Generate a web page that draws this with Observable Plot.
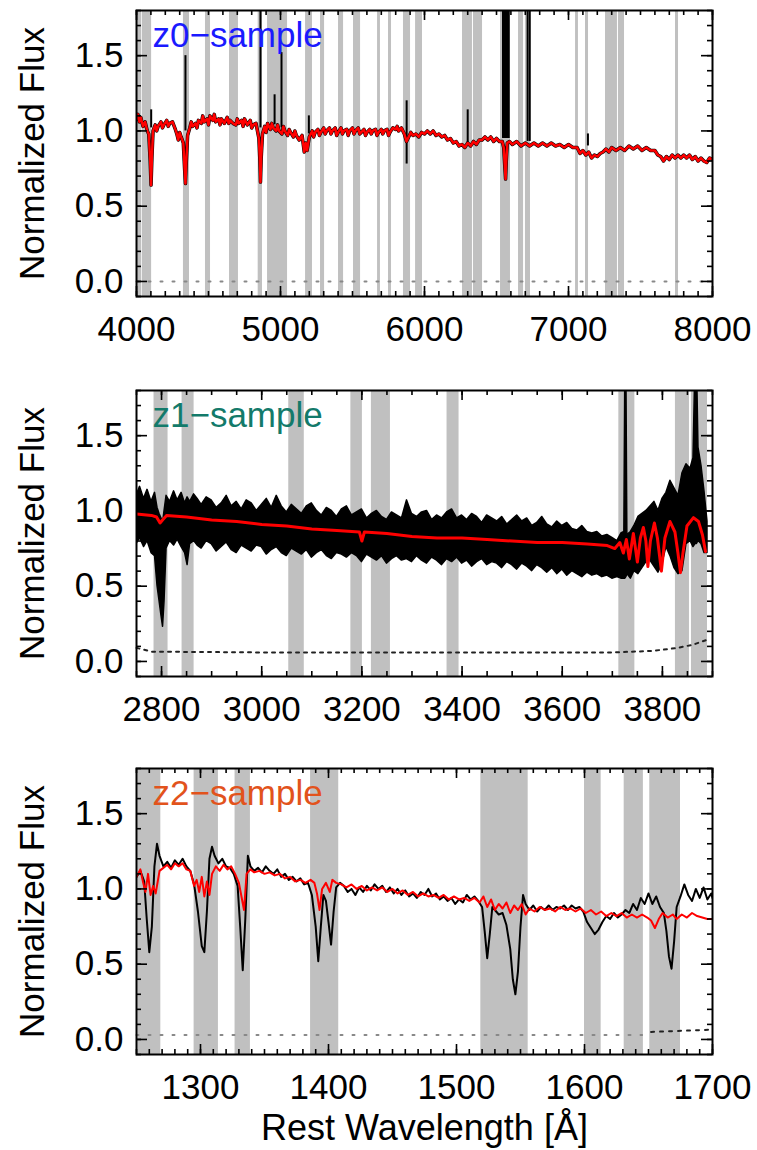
<!DOCTYPE html>
<html><head><meta charset="utf-8">
<script src="https://cdn.jsdelivr.net/npm/d3@7"></script>
<script src="https://cdn.jsdelivr.net/npm/@observablehq/plot@0.6"></script>
<style>
body{margin:0;background:#fff;}
#wrap{position:relative;width:757px;height:1150px;background:#fff;}
.panel{position:absolute;left:0;}
</style></head><body><div id="wrap"></div>
<script>
// ---------------- DATA ----------------
const yTickLabels = [0.0, 0.5, 1.0, 1.5];

// z0 panel
const z0Ticks = [4000, 5000, 6000, 7000, 8000];
const z0Bands = [[4005,4035],[4040,4105],[4326,4368],[4479,4514],[4646,4708],[4845,4875],[4910,5049],[5174,5222],[5278,5306],[5403,5438],[5507,5556],[5674,5694],[5750,5771],[5854,5903],[5938,5986],[6264,6333],[6340,6403],[6528,6597],[6653,6688],[6701,6736],[7049,7069],[7118,7139],[7257,7340],[7347,7389],[7743,7764]];
const z0Model = [[4000,1.08],[4010,1.11],[4020,1.06],[4030,1.09],[4045,1.03],[4060,1.06],[4075,1.00],[4085,0.98],[4095,0.80],[4101,0.64],[4107,0.82],[4115,1.00],[4130,1.04],[4140,1.00],[4150,1.03],[4170,1.06],[4180,1.02],[4190,1.04],[4210,1.07],[4220,1.03],[4230,1.05],[4250,1.06],[4270,1.01],[4280,0.98],[4290,0.94],[4300,0.99],[4310,0.96],[4325,0.92],[4334,0.75],[4340,0.65],[4346,0.80],[4355,0.97],[4370,1.02],[4380,1.06],[4390,1.03],[4410,1.05],[4420,1.02],[4430,1.07],[4450,1.05],[4460,1.10],[4470,1.06],[4490,1.08],[4500,1.04],[4510,1.10],[4530,1.07],[4540,1.11],[4550,1.06],[4570,1.08],[4580,1.04],[4590,1.08],[4610,1.05],[4630,1.09],[4640,1.05],[4650,1.07],[4670,1.05],[4690,1.04],[4700,1.08],[4710,1.05],[4730,1.07],[4740,1.03],[4750,1.08],[4770,1.04],[4790,1.07],[4800,1.02],[4810,1.04],[4830,1.05],[4850,0.95],[4857,0.80],[4861,0.66],[4866,0.82],[4875,0.98],[4890,1.03],[4900,0.99],[4910,1.05],[4930,1.01],[4940,1.05],[4950,1.02],[4970,1.00],[4980,1.04],[4990,1.00],[5010,0.98],[5020,1.03],[5030,1.00],[5050,0.97],[5060,1.01],[5070,0.99],[5090,0.96],[5100,1.00],[5110,0.97],[5130,0.94],[5150,0.97],[5165,0.86],[5175,0.92],[5185,0.87],[5200,0.96],[5220,1.00],[5230,0.96],[5240,0.99],[5260,1.01],[5270,0.97],[5280,0.99],[5300,1.02],[5310,0.98],[5320,1.00],[5340,1.02],[5350,0.98],[5360,1.00],[5380,1.02],[5390,0.97],[5400,0.99],[5420,1.02],[5430,0.98],[5440,1.00],[5460,1.01],[5470,0.97],[5480,1.00],[5500,1.02],[5510,0.98],[5520,1.00],[5540,1.02],[5550,0.98],[5560,0.99],[5580,1.01],[5590,0.97],[5600,0.99],[5620,1.01],[5630,0.98],[5640,1.00],[5660,1.01],[5670,0.97],[5680,0.99],[5700,1.01],[5710,0.98],[5720,1.00],[5740,1.01],[5750,0.97],[5760,0.99],[5780,1.02],[5800,1.01],[5810,1.03],[5820,1.00],[5840,1.02],[5860,0.98],[5875,0.93],[5890,0.96],[5905,0.99],[5920,0.97],[5940,0.98],[5960,0.96],[5980,0.99],[6000,0.98],[6020,1.00],[6040,0.98],[6060,1.00],[6080,0.97],[6100,0.98],[6120,0.96],[6140,0.97],[6160,0.94],[6180,0.95],[6200,0.92],[6220,0.93],[6240,0.90],[6260,0.91],[6280,0.89],[6300,0.92],[6320,0.90],[6340,0.93],[6360,0.91],[6380,0.94],[6400,0.94],[6420,0.96],[6440,0.94],[6460,0.96],[6480,0.93],[6500,0.95],[6520,0.93],[6540,0.93],[6550,0.89],[6558,0.76],[6563,0.68],[6568,0.80],[6575,0.92],[6590,0.93],[6610,0.91],[6640,0.93],[6670,0.90],[6700,0.92],[6730,0.90],[6760,0.92],[6790,0.90],[6820,0.92],[6850,0.90],[6880,0.92],[6910,0.90],[6940,0.91],[6970,0.89],[7000,0.91],[7030,0.89],[7060,0.89],[7080,0.85],[7100,0.87],[7120,0.84],[7140,0.86],[7160,0.82],[7180,0.84],[7200,0.83],[7220,0.85],[7240,0.86],[7260,0.88],[7280,0.86],[7300,0.89],[7330,0.87],[7360,0.89],[7390,0.87],[7420,0.90],[7450,0.88],[7480,0.90],[7510,0.87],[7540,0.89],[7570,0.87],[7600,0.87],[7620,0.84],[7640,0.83],[7660,0.80],[7680,0.83],[7700,0.81],[7720,0.84],[7740,0.82],[7760,0.84],[7780,0.82],[7800,0.84],[7820,0.82],[7840,0.84],[7860,0.81],[7880,0.83],[7900,0.80],[7920,0.82],[7940,0.80],[7960,0.79],[7980,0.82],[8000,0.81]];
// emission spikes in the observed z0 spectrum: [wavelength, base, peak]
const z0Spikes = [[4102,1.02,1.14],[4340,1.0,1.50],[4861,1.02,1.90],[4959,1.04,1.24],[5007,1.02,1.52],[5197,0.98,1.10],[5876,0.78,1.20],[6300,0.92,1.14],[6545,0.95,1.90],[6550,0.95,1.90],[6555,0.95,1.90],[6560,0.95,1.90],[6565,0.95,1.90],[6570,0.95,1.90],[6575,0.95,1.90],[6580,0.95,1.90],[6585,0.95,1.90],[6716,0.93,1.90],[6731,0.93,1.90],[7135,0.90,0.98]];
const z0Err = [[4000,0.0],[8000,0.0]];

// z1 panel
const z1Ticks = [2800, 3000, 3200, 3400, 3600, 3800];
const z1Bands = [[2785,2813],[2841,2865],[3054,3085],[3178,3201],[3219,3257],[3370,3394],[3713,3745],[3826,3854],[3858,3890]];
const z1Wave = [2750,2757,2765,2772,2780,2787,2792,2796,2800,2803,2806,2810,2817,2825,2832,2840,2847,2852,2857,2865,2872,2880,2890,2900,2910,2920,2930,2940,2950,2960,2970,2980,2990,3000,3010,3020,3030,3040,3050,3060,3070,3080,3090,3100,3110,3120,3130,3140,3150,3160,3170,3180,3190,3200,3210,3220,3230,3240,3250,3260,3270,3280,3290,3300,3310,3320,3330,3340,3350,3360,3370,3380,3390,3400,3410,3420,3430,3440,3450,3460,3470,3480,3490,3500,3510,3520,3530,3540,3550,3560,3570,3580,3590,3600,3610,3620,3630,3640,3650,3660,3670,3680,3690,3700,3710,3718,3724,3726,3728,3730,3737,3744,3752,3760,3768,3776,3784,3792,3800,3808,3816,3824,3832,3840,3848,3856,3862,3866,3869,3872,3878,3884,3890];
const z1High = [1.10,1.16,1.08,1.14,1.06,1.12,1.02,0.98,0.95,0.92,1.00,1.10,1.06,1.13,1.07,1.12,1.05,1.09,1.06,1.11,
  1.08,1.04,1.09,1.07,1.02,1.05,1.10,1.03,1.06,1.01,
  1.07,1.05,1.00,1.04,1.08,1.02,1.10,1.03,0.99,1.04,
  1.01,0.98,1.03,1.05,1.00,0.97,1.02,1.00,0.96,1.01,
  1.03,0.97,0.99,1.01,0.95,0.98,1.00,0.96,0.94,0.99,
  0.97,0.95,1.07,0.98,0.96,0.99,1.00,0.94,0.97,0.95,
  0.99,1.01,0.95,0.97,0.94,0.98,0.96,0.92,0.97,0.95,
  0.93,0.96,0.91,0.94,0.97,0.93,0.95,0.90,0.92,0.96,
  0.91,0.89,0.93,0.90,0.92,0.88,0.87,0.90,0.86,0.85,
  0.86,0.83,0.84,0.82,0.80,0.85,0.86,2.00,2.00,0.84,
  0.86,0.90,0.96,0.98,1.00,1.03,1.06,1.00,1.08,1.12,1.20,1.15,1.10,1.25,1.31,1.28,1.35,2.00,2.00,1.42,1.30,1.13,0.93];
const z1Low = [0.78,0.82,0.76,0.80,0.72,0.70,0.50,0.40,0.30,0.23,0.40,0.75,0.80,0.77,0.81,0.76,0.72,0.64,0.78,0.80,
  0.77,0.75,0.80,0.78,0.73,0.76,0.79,0.74,0.72,0.77,
  0.75,0.73,0.77,0.76,0.71,0.74,0.76,0.72,0.70,0.75,
  0.73,0.71,0.74,0.69,0.72,0.74,0.70,0.68,0.72,0.71,
  0.69,0.72,0.70,0.66,0.71,0.69,0.67,0.70,0.65,0.68,
  0.70,0.67,0.68,0.66,0.70,0.67,0.65,0.69,0.67,0.64,
  0.68,0.66,0.69,0.65,0.67,0.63,0.66,0.68,0.64,0.66,
  0.65,0.62,0.66,0.64,0.61,0.65,0.63,0.60,0.64,0.62,
  0.59,0.62,0.58,0.61,0.57,0.60,0.58,0.56,0.59,0.57,
  0.58,0.56,0.57,0.55,0.56,0.55,0.55,0.55,0.56,0.58,
  0.55,0.60,0.58,0.62,0.66,0.67,0.63,0.59,0.65,0.76,0.70,0.62,0.58,0.60,0.78,0.80,0.76,0.78,0.78,0.80,0.78,0.72,0.72];
const z1Model = [[2750,0.98],[2780,0.97],[2790,0.96],[2797,0.92],[2802,0.94],[2810,0.97],[2850,0.96],[2900,0.94],[2950,0.93],[3000,0.91],[3050,0.90],[3100,0.88],[3150,0.87],[3195,0.86],[3200,0.80],[3205,0.86],[3250,0.85],[3300,0.83],[3350,0.82],[3400,0.82],[3450,0.81],[3500,0.80],[3550,0.79],[3600,0.79],[3650,0.78],[3690,0.77],[3705,0.75],[3715,0.79],[3722,0.72],[3728,0.81],[3734,0.68],[3742,0.85],[3750,0.66],[3756,0.82],[3762,0.89],[3767,0.80],[3771,0.63],[3776,0.80],[3784,0.92],[3790,0.82],[3798,0.60],[3805,0.82],[3815,0.93],[3825,0.86],[3831,0.72],[3836,0.59],[3841,0.72],[3849,0.90],[3862,0.955],[3872,0.93],[3880,0.84],[3886,0.73]];
const z1Err = [[2750,0.09],[2780,0.065],[3000,0.06],[3500,0.06],[3700,0.06],[3780,0.07],[3830,0.09],[3860,0.11],[3890,0.145]];

// z2 panel
const z2Ticks = [1300, 1400, 1500, 1600, 1700];
const z2Bands = [[1251,1269],[1295,1314],[1327,1339],[1386,1408],[1519,1556],[1600,1613],[1631,1646],[1651,1675]];
const z2Obs = [[1250,1.08],[1253,1.12],[1256,1.05],[1258,0.80],[1260,0.58],[1262,0.75],[1264,1.15],[1266,1.30],[1268,1.22],[1271,1.15],[1274,1.18],[1277,1.14],[1280,1.19],[1283,1.16],[1286,1.20],[1289,1.15],[1292,1.12],[1295,1.03],[1298,0.85],[1301,0.62],[1303,0.58],[1305,0.85],[1307,1.20],[1309,1.28],[1311,1.22],[1314,1.17],[1317,1.20],[1320,1.15],[1323,1.14],[1326,1.10],[1329,1.02],[1331,0.75],[1333,0.46],[1335,0.80],[1337,1.22],[1339,1.15],[1342,1.12],[1345,1.14],[1348,1.11],[1351,1.15],[1354,1.12],[1357,1.10],[1360,1.13],[1363,1.08],[1366,1.10],[1369,1.06],[1372,1.08],[1375,1.05],[1378,1.07],[1381,1.03],[1384,1.04],[1387,0.96],[1390,0.75],[1392,0.52],[1394,0.75],[1396,0.96],[1398,0.92],[1400,0.78],[1402,0.63],[1404,0.85],[1406,1.01],[1409,1.04],[1412,1.02],[1415,0.98],[1418,1.00],[1421,0.96],[1424,1.01],[1427,0.98],[1430,1.02],[1433,0.99],[1436,1.03],[1439,1.00],[1442,1.02],[1445,0.98],[1448,1.01],[1451,0.97],[1454,1.00],[1457,0.96],[1460,0.99],[1463,0.95],[1466,0.97],[1469,0.94],[1472,0.98],[1475,0.96],[1478,1.00],[1481,0.95],[1484,0.97],[1487,0.93],[1490,0.95],[1493,0.92],[1496,0.94],[1499,0.90],[1502,0.93],[1505,0.91],[1508,0.96],[1511,0.93],[1514,0.95],[1517,0.92],[1520,0.88],[1522,0.72],[1524,0.54],[1526,0.70],[1528,0.88],[1530,0.86],[1533,0.83],[1536,0.84],[1539,0.76],[1542,0.60],[1544,0.40],[1546,0.30],[1548,0.45],[1550,0.75],[1552,0.96],[1554,0.90],[1557,0.86],[1560,0.89],[1563,0.85],[1566,0.88],[1569,0.86],[1572,0.89],[1575,0.86],[1578,0.88],[1581,0.87],[1584,0.89],[1587,0.86],[1590,0.89],[1593,0.87],[1596,0.88],[1599,0.85],[1602,0.78],[1605,0.74],[1608,0.70],[1611,0.73],[1614,0.78],[1617,0.82],[1620,0.80],[1623,0.84],[1626,0.81],[1629,0.83],[1632,0.86],[1635,0.84],[1638,0.90],[1641,0.86],[1644,0.94],[1647,0.90],[1650,0.97],[1653,0.90],[1656,0.95],[1659,0.88],[1662,0.84],[1664,0.72],[1666,0.55],[1668,0.47],[1670,0.65],[1672,0.88],[1675,0.95],[1678,1.03],[1681,0.96],[1684,0.92],[1687,1.00],[1690,0.94],[1693,1.01],[1696,0.93],[1699,0.97],[1700,0.94]];
const z2Model = [[1250,1.08],[1253,1.13],[1255,1.05],[1257,0.98],[1259,1.10],[1261,0.96],[1263,1.02],[1265,0.97],[1268,1.12],[1271,1.14],[1274,1.16],[1277,1.13],[1280,1.17],[1283,1.15],[1286,1.17],[1289,1.13],[1292,1.12],[1295,1.02],[1297,1.06],[1299,0.98],[1301,1.08],[1303,0.95],[1305,1.05],[1307,0.96],[1309,1.10],[1312,1.15],[1315,1.12],[1318,1.16],[1321,1.13],[1324,1.15],[1327,1.10],[1330,1.04],[1332,0.95],[1334,0.86],[1336,1.10],[1339,1.13],[1342,1.11],[1346,1.12],[1350,1.10],[1354,1.11],[1358,1.09],[1362,1.10],[1366,1.07],[1370,1.08],[1374,1.05],[1378,1.06],[1382,1.04],[1386,1.06],[1389,1.04],[1391,0.97],[1393,0.86],[1395,1.00],[1398,1.04],[1401,0.98],[1403,1.06],[1406,1.04],[1410,1.03],[1414,1.01],[1418,1.03],[1422,1.00],[1426,1.02],[1430,0.99],[1434,1.01],[1438,0.99],[1442,1.01],[1446,0.98],[1450,1.00],[1454,0.97],[1458,0.99],[1462,0.96],[1466,0.98],[1470,0.95],[1474,0.97],[1478,0.95],[1482,0.96],[1486,0.94],[1490,0.96],[1494,0.93],[1498,0.95],[1502,0.93],[1506,0.94],[1510,0.92],[1514,0.94],[1518,0.91],[1521,0.95],[1524,0.88],[1527,0.93],[1530,0.86],[1533,0.90],[1536,0.87],[1539,0.91],[1542,0.84],[1545,0.89],[1548,0.86],[1551,0.90],[1554,0.83],[1557,0.87],[1561,0.85],[1565,0.88],[1569,0.86],[1573,0.87],[1577,0.85],[1581,0.88],[1585,0.86],[1589,0.87],[1593,0.85],[1597,0.87],[1601,0.84],[1605,0.86],[1609,0.83],[1613,0.85],[1617,0.82],[1621,0.84],[1625,0.82],[1629,0.84],[1633,0.81],[1637,0.83],[1641,0.81],[1645,0.83],[1649,0.81],[1652,0.79],[1655,0.74],[1658,0.80],[1661,0.84],[1665,0.81],[1669,0.83],[1672,0.80],[1676,0.83],[1680,0.81],[1684,0.84],[1688,0.82],[1692,0.81],[1696,0.80],[1700,0.80]];
const z2ErrLow = [[1250,0.03],[1645,0.03]];
const z2ErrHigh = [[1652,0.05],[1700,0.065]];

// ---------------- DRAWING ----------------
const W = 757, ML = 136, MR = 45, MT = 10, FH = 286;
const PW = W - ML - MR;
const FONT = "'Liberation Sans', Arial, Helvetica, sans-serif";
const yDomain = [-0.1, 1.8];
const yMinor = d3.range(-0.1, 1.81, 0.1).map(v => Math.round(v * 10) / 10);

function tickMarks(xMinor, xMajor) {
  const s = {stroke: "#000", strokeWidth: 1.6};
  return [
    Plot.tickX(xMinor, {x: d => d, insetTop: FH - 5, ...s}),
    Plot.tickX(xMinor, {x: d => d, insetBottom: FH - 5, ...s}),
    Plot.tickX(xMajor, {x: d => d, insetTop: FH - 10, ...s}),
    Plot.tickX(xMajor, {x: d => d, insetBottom: FH - 10, ...s}),
    Plot.tickY(yMinor, {y: d => d, insetRight: PW - 5, ...s}),
    Plot.tickY(yMinor, {y: d => d, insetLeft: PW - 5, ...s}),
    Plot.tickY(yTickLabels, {y: d => d, insetRight: PW - 11, ...s}),
    Plot.tickY(yTickLabels, {y: d => d, insetLeft: PW - 11, ...s})
  ];
}

function panel({top, height, domain, ticks, minor, bands, data, label, color, extra = []}) {
  const marks = [
    Plot.rect(bands, {x1: d => d[0], x2: d => d[1], fill: "#c0c0c0"}),
    ...data,
    ...tickMarks(minor, ticks),
    Plot.frame({stroke: "#000", strokeWidth: 2}),
    Plot.text([label], {text: d => d, frameAnchor: "top-left", dx: 16, dy: 12, lineAnchor: "top", textAnchor: "start", fill: color, fontSize: 35, fontFamily: FONT}),
    Plot.text(["Normalized Flux"], {text: d => d, frameAnchor: "left", textAnchor: "middle", rotate: -90, dx: -104, fontSize: 35, fontFamily: FONT, fill: "#000"}),
    ...extra
  ];
  const svg = Plot.plot({
    width: W, height,
    marginLeft: ML, marginRight: MR, marginTop: MT, marginBottom: height - MT - FH,
    x: {domain, ticks, tickSize: 0, tickPadding: 20, tickFormat: d => String(d), label: null},
    y: {domain: yDomain, ticks: yTickLabels, tickSize: 0, tickPadding: 13, tickFormat: d3.format(".1f"), label: null},
    style: {fontFamily: FONT, fontSize: "35px", color: "#000", background: "transparent", overflow: "visible"},
    marks
  });
  const div = document.createElement("div");
  div.className = "panel";
  div.style.top = top + "px";
  div.appendChild(svg);
  document.getElementById("wrap").appendChild(div);
}

const xy = {x: d => d[0], y: d => d[1]};

panel({
  top: 0, height: 360, domain: [4000, 8000], ticks: z0Ticks,
  minor: d3.range(4000, 8001, 100), bands: z0Bands,
  label: "z0\u2212sample", color: "#1a1aff",
  data: [
    Plot.line(z0Err, {...xy, stroke: "#888", strokeWidth: 2, strokeDasharray: "2,10"}),
    Plot.line(z0Model, {...xy, stroke: "#000", strokeWidth: 3.5, clip: true}),
    Plot.ruleX(z0Spikes, {x: d => d[0], y1: d => d[1], y2: d => d[2], stroke: "#000", strokeWidth: 2, clip: true}),
    Plot.line(z0Model, {...xy, stroke: "#ff0000", strokeWidth: 2.5, clip: true})
  ]
});

panel({
  top: 380, height: 360, domain: [2750, 3900], ticks: z1Ticks,
  minor: d3.range(2750, 3901, 50), bands: z1Bands,
  label: "z1\u2212sample", color: "#137a6a",
  data: [
    Plot.line(z1Err, {...xy, stroke: "#222", strokeWidth: 2, strokeDasharray: "3,5"}),
    Plot.areaY(z1Wave, {x: (d) => d, y1: (d, i) => z1Low[i], y2: (d, i) => z1High[i], fill: "#000", stroke: "#000", strokeWidth: 1.5, clip: true}),
    Plot.line(z1Model, {...xy, stroke: "#ff0000", strokeWidth: 3, clip: true})
  ]
});

panel({
  top: 758, height: 392, domain: [1250, 1700], ticks: z2Ticks,
  minor: d3.range(1250, 1701, 10), bands: z2Bands,
  label: "z2\u2212sample", color: "#e2531c",
  data: [
    Plot.line(z2ErrLow, {...xy, stroke: "#888", strokeWidth: 2, strokeDasharray: "2,10"}),
    Plot.line(z2ErrHigh, {...xy, stroke: "#222", strokeWidth: 2, strokeDasharray: "3,6"}),
    Plot.line(z2Obs, {...xy, stroke: "#000", strokeWidth: 2, clip: true}),
    Plot.line(z2Model, {...xy, stroke: "#ff0000", strokeWidth: 2, clip: true})
  ],
  extra: [
    Plot.text(["Rest Wavelength [\u00c5]"], {text: d => d, frameAnchor: "bottom", dy: 85, fontSize: 36, fontFamily: FONT, fill: "#000"})
  ]
});
</script></body></html>
